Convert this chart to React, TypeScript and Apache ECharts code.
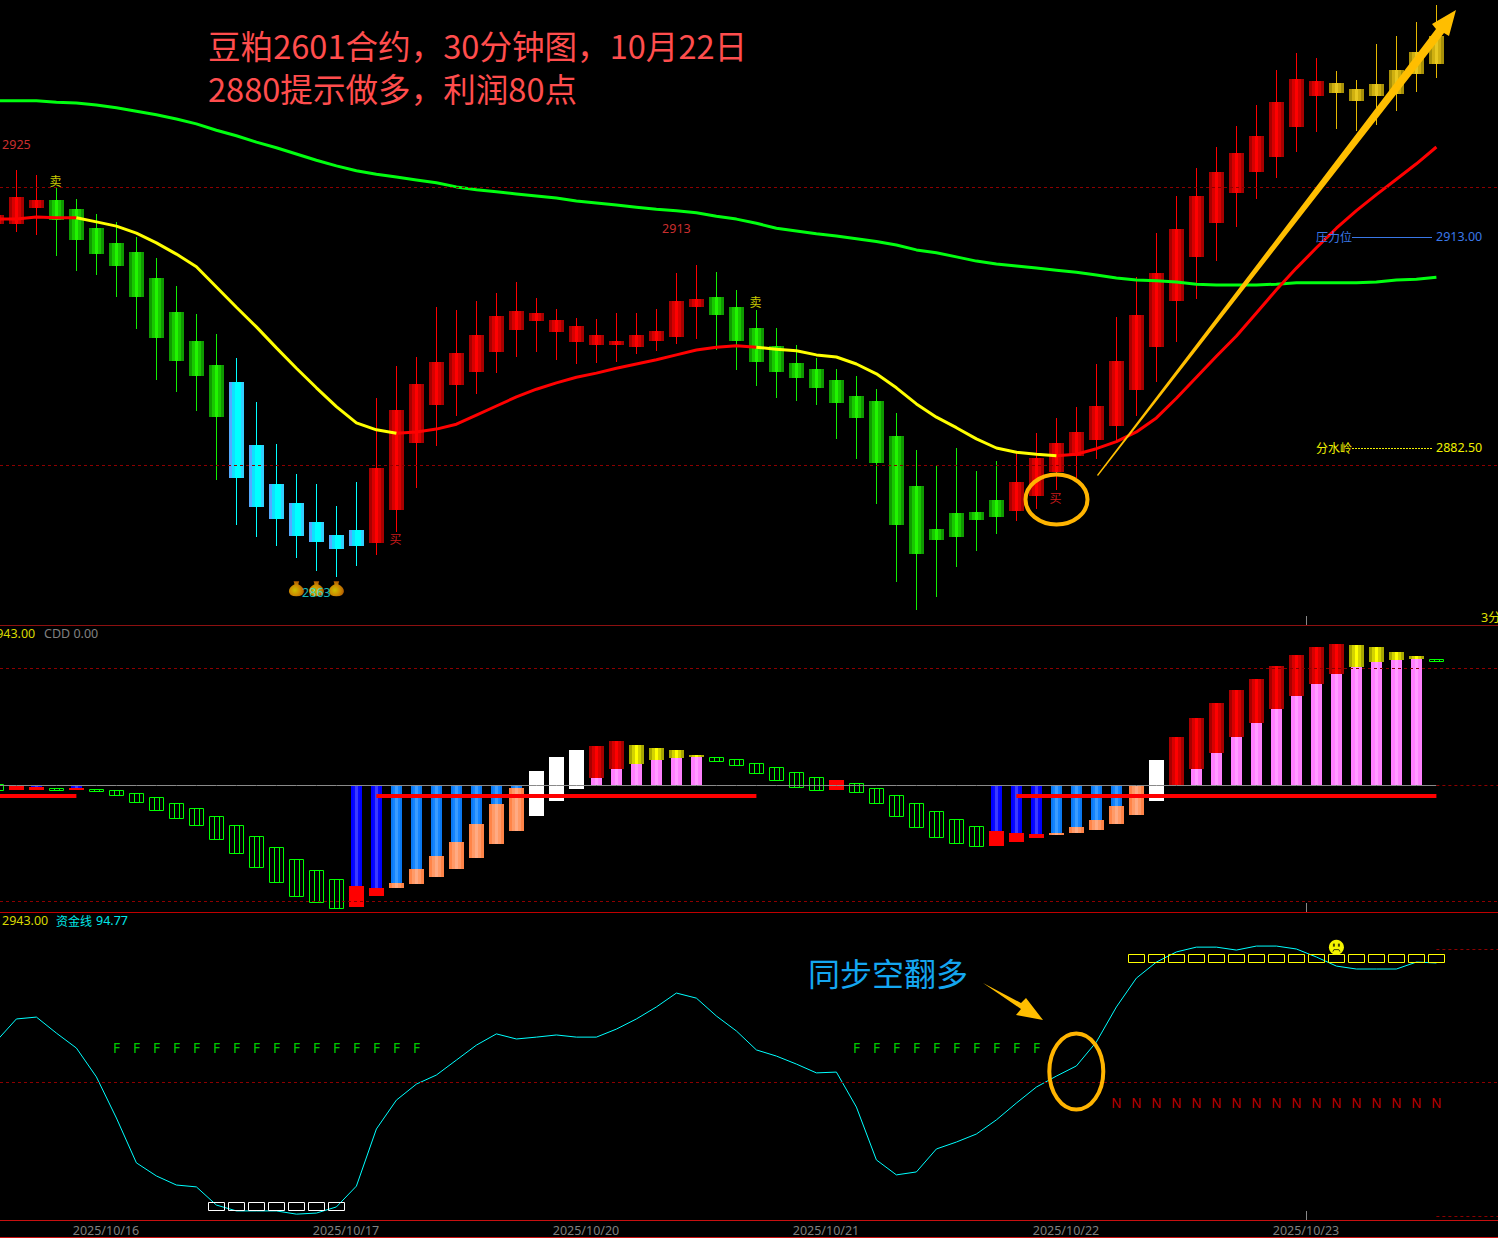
import React, { useEffect, useRef } from "react";
import * as echarts from "echarts";

// ---------- price pane ----------
const candleKinds = "rrrgggggggggcccccccrrrrrrrrrrrrrrrrrgggggggggggggggrrrrrrrrrrrrrrrryyyyyy";
const opens = [2915,2915,2917.3,2918.4,2917.1,2914.4,2912.3,2911,2907.3,2902.4,2898.3,2894.9,2892.4,2883.4,2877.9,2875.1,2872.4,2870.6,2871.3,2869.4,2874.1,2883.7,2889.1,2892,2893.9,2896.7,2899.9,2901.1,2899.6,2898.1,2897.7,2897.7,2897.4,2898.3,2898.9,2903.1,2904.6,2903.1,2900.1,2897.6,2895.1,2894.3,2892.7,2890.4,2889.7,2884.7,2877.6,2871.4,2873.7,2873.9,2875.6,2874,2876.1,2879.6,2881.9,2884.1,2886.1,2891.3,2897.4,2904,2910.3,2915.1,2919.4,2922.4,2924.6,2928.9,2933.3,2933.7,2932.6,2933.3,2933.6,2936.4,2937.9];
const closes = [2916.3,2918.9,2918.4,2915.6,2912.7,2910.7,2909,2904.6,2898.7,2895.4,2893.3,2887.4,2878.7,2874.6,2872.9,2870.4,2869.6,2868.6,2869,2880.1,2888.4,2892.1,2895.3,2896.6,2899.1,2901.9,2902.6,2902.3,2901.3,2900.4,2899.1,2898.3,2899.1,2899.7,2904,2904.3,2902,2898.3,2895.3,2893.9,2893,2891.6,2889.4,2887.3,2880.9,2872,2867.9,2869.9,2870.3,2872.7,2873.1,2878.1,2881.6,2883.7,2885.3,2889,2895.4,2902,2908,2914.3,2919,2922.4,2925.1,2927.6,2932.4,2935.7,2935.4,2935.1,2934.3,2935,2937,2939.6,2941.9];
const lows = [2915,2913.9,2913.4,2910.4,2908.3,2907.7,2904.6,2900,2892.7,2891,2888.3,2878.4,2872,2870.3,2869,2867.3,2865.4,2864.6,2866.1,2867.7,2871,2877.3,2883.3,2887.6,2890.7,2893.7,2896,2896.7,2895.6,2895,2895.1,2895.3,2896.4,2896.9,2897.9,2898.6,2897,2894.1,2891.9,2890.1,2889.7,2889.1,2884.3,2881.4,2875,2863.9,2859.9,2861.7,2866,2868.3,2870.7,2872.6,2874.3,2877,2878.7,2881.4,2883.9,2887.6,2892.4,2898.1,2904.3,2909.7,2914.6,2918.6,2921.6,2925.3,2928.1,2928.6,2928.3,2929.1,2931.1,2933.9,2935.9];
const highs = [2916.3,2922.7,2922,2920.1,2918.6,2916.4,2915.3,2913.1,2910.1,2906.1,2902.1,2899.3,2895.9,2889.6,2883.6,2879.3,2877.9,2874.7,2878.1,2890.1,2894.7,2896,2903.1,2902.7,2904,2905.1,2906.7,2904.4,2902.9,2901.6,2901.4,2902.3,2902.3,2902.9,2908,2909.1,2908.1,2905.6,2902.7,2900.1,2897.7,2895.9,2894.3,2893.3,2891.4,2888,2882.7,2880.6,2883,2879.7,2881.1,2882.3,2885.1,2887.3,2888.9,2895,2901.7,2907.4,2913.7,2919,2923,2926,2929,2932,2937,2939.4,2938.7,2936.9,2935.6,2940.7,2941.9,2943.9,2946.3];
const longAverage = [2932.6,2932.6,2932.6,2932.4,2932.3,2932,2931.6,2931.1,2930.6,2930,2929.3,2928.4,2927.6,2926.7,2925.9,2925,2924.1,2923.3,2922.6,2922.1,2921.7,2921.3,2920.9,2920.3,2919.9,2919.6,2919.3,2919,2918.7,2918.3,2918,2917.7,2917.4,2917.1,2916.9,2916.6,2916.1,2915.7,2915.1,2914.4,2914,2913.6,2913.3,2912.9,2912.5,2912,2911.3,2910.9,2910.3,2909.7,2909.3,2909,2908.7,2908.4,2908.1,2907.7,2907.3,2907,2906.9,2906.7,2906.4,2906.3,2906.3,2906.3,2906.4,2906.6,2906.6,2906.6,2906.6,2906.7,2907,2907.1,2907.4];
const trendLine = [2915.7,2915.7,2916,2915.9,2915.9,2915.3,2914.7,2913.7,2912.3,2910.7,2908.9,2906,2903.1,2900.3,2897.3,2894.4,2891.6,2888.9,2886.6,2885.6,2885.1,2885.3,2885.7,2886.4,2887.7,2889,2890.3,2891.4,2892.3,2893.1,2893.7,2894.4,2895,2895.6,2896.3,2897,2897.4,2897.6,2897.4,2897.1,2896.9,2896.3,2896,2895,2893.6,2891.6,2889.3,2887.4,2885.9,2884.3,2883,2882.4,2882.1,2881.9,2882.1,2882.9,2883.9,2885.3,2887.3,2890.1,2893.1,2896.1,2899,2902.3,2905.6,2908.7,2911.6,2914.4,2916.9,2919.2,2921.4,2923.6,2926];
const bullRuns = [[0,4],[20,38],[53,72]];
const bearRuns = [[4,20],[38,53]];
const priceLevels = [2920.2, 2880.5];
const buyMarks = [[-0.05,2911.2],[19.95,2870.1],[52.95,2876]];
const sellMarks = [[2.95,2921.2],[37.95,2904]];
const extremeMarks = [[1,2926.4,"2925"],[34,2914.4,"2913"]];
const lowMark = [[16,2862.4,"2863"]];
const potMarks = [[15,2862.9],[16,2862.9],[17,2862.9]];

// ---------- CDD pane ----------
const stemKinds = "--b-b" + "-------------" + "bb" + "lllllll" + "---" + "pppppp" + "--------------" + "bbb" + "llll" + "---" + "pppppppppppp" + "-";
const stemEnds = [0,0,-2,0,-3,0,0,0,0,0,0,0,0,0,0,0,0,0,-101,-103,-98,-84,-71,-57,-39,-19,-3,0,0,0,7,16,21,25,27,28,0,0,0,0,0,0,0,0,0,0,0,0,0,0,-46,-48,-49,-48,-42,-35,-21,0,0,0,16,32,48,62,76,89,101,111,118,123,125,126,0];
const blockKinds = "xrrxr" + "xxxxxxxxxxxxx" + "rr" + "ooooooo" + "www" + "RR" + "yyyy" + "xxxxxx" + "r" + "xxxxxxx" + "rrr" + "ooooo" + "w" + "RRRRRRRRR" + "yyyy" + "x";
const blockTops = [1,-1,-2,-3,-3,-4,-5,-8,-12,-18,-23,-31,-40,-51,-62,-74,-85,-94,-101,-103,-98,-84,-71,-57,-39,-19,-3,14,28,35,39,44,40,37,35,30,28,26,22,18,13,8,5,2,-3,-10,-18,-26,-34,-41,-46,-48,-49,-48,-42,-35,-21,-1,25,48,67,82,95,106,119,130,138,141,140,138,133,129,126];
const blockBottoms = [-6,-5,-5,-6,-5,-7,-11,-18,-26,-34,-41,-55,-69,-83,-98,-112,-118,-124,-122,-111,-103,-99,-92,-84,-73,-59,-46,-31,-16,-4,7,16,21,25,27,28,23,19,11,4,-3,-6,-5,-8,-19,-32,-43,-53,-59,-62,-61,-57,-53,-50,-48,-45,-39,-30,-16,0,16,32,48,62,76,89,101,111,118,123,125,126,123];
const cddLevels = [117, -116];
const holdRuns = [[0,4],[19,38],[51,72]];
const holdLevel = -10.5;

// ---------- money-flow pane ----------
const moneyLine = [65.5,73.8,74.5,68.5,62.9,52.1,36.7,19.9,15,11.6,10.9,4.1,1.9,1.9,1.9,0.7,1.1,3.4,11.2,32.6,43.4,49.4,52.8,58.4,64,68.2,66.3,67,67.8,67,67,70,73.8,78.3,83.5,81.6,74.9,69.3,62.2,59.9,56.9,53.6,53.9,40.8,21,15.4,16.5,25.1,27.7,30.7,36,42.3,48.3,52.4,56.2,65.2,78.3,89.1,95.1,98.9,100.7,100.7,99.6,101.1,101.1,100,97,93.6,92.5,92.5,92.5,95.1,94.77];
const fallMarks = [6,7,8,9,10,11,12,13,14,15,16,17,18,19,20,21,43,44,45,46,47,48,49,50,51,52];
const fallLevel = 62.9;
const riseMarks = [56,57,58,59,60,61,62,63,64,65,66,67,68,69,70,71,72];
const riseLevel = 42.3;
const lowBoxes = [11,12,13,14,15,16,17];
const lowBoxLevel = 3.6;
const highBoxes = [57,58,59,60,61,62,63,64,65,66,67,68,69,70,71,72];
const highBoxLevel = 96.4;
const faceMark = [[67,100.7]];
const moneyMidLevel = 50;
const moneyEdgeLevels = [100, 0];

// ---------- time axis ----------
const dateLabels = ["2025/10/16","2025/10/17","2025/10/20","2025/10/21","2025/10/22","2025/10/23"];
const dateSlots = [5.48,17.48,29.48,41.48,53.48,65.48];
const lastSessionSlot = [65.48];

const SANS = '"Noto Sans", "Noto Sans CJK SC", sans-serif';
const CJK = '"Noto Sans CJK SC", sans-serif';

const grad = (stops: [number, string][]) => ({
  type: "linear", x: 0, y: 0, x2: 1, y2: 0,
  colorStops: stops.map(([offset, color]) => ({ offset, color })),
});
const tri = (dark: string, mid: string, bright: string) =>
  grad([[0, dark], [0.2, dark], [0.2, mid], [0.4, mid], [0.4, bright], [0.6, bright], [0.6, mid], [0.8, mid], [0.8, dark], [1, dark]]);

const candleStyle: Record<string, { wick: string; body: any }> = {
  r: { wick: "#ff0000", body: tri("#a80000", "#d80000", "#ff0000") },
  g: { wick: "#10f000", body: tri("#0f9a00", "#18c800", "#20f400") },
  c: { wick: "#00ffff", body: grad([[0, "#55aaff"], [0.2, "#55aaff"], [0.2, "#10e0ff"], [0.4, "#10e0ff"], [0.4, "#00ffff"], [0.8, "#00ffff"], [0.8, "#30d0ff"], [1, "#30d0ff"]]) },
  y: { wick: "#e6b800", body: tri("#a89008", "#d0b010", "#e8c820") },
};
const stemFill: Record<string, any> = {
  b: tri("#0000ff", "#0808ff", "#3a3aff"),
  l: tri("#0a78f0", "#1484ff", "#3a9cff"),
  p: tri("#ff80ff", "#ff80ff", "#ff9cff"),
};
const blockFill: Record<string, any> = {
  r: "#ff0000",
  R: tri("#a80000", "#d80000", "#ff0000"),
  o: tri("#ff8448", "#ff9a68", "#ffaa84"),
  w: "#ffffff",
  y: tri("#a8a800", "#d4d400", "#ffff00"),
};

const renderCandle = (params: any, api: any) => {
  const slot = api.value(0);
  const cx = Math.floor(api.coord([slot, 2900])[0]);
  const yOpen = Math.round(api.coord([slot, api.value(1)])[1]);
  const yClose = Math.round(api.coord([slot, api.value(2)])[1]);
  const yLow = Math.round(api.coord([slot, api.value(3)])[1]);
  const yHigh = Math.round(api.coord([slot, api.value(4)])[1]);
  const st = candleStyle[candleKinds[params.dataIndex]];
  const top = Math.min(yOpen, yClose);
  const height = Math.max(1, Math.abs(yOpen - yClose));
  return {
    type: "group",
    children: [
      { type: "line", shape: { x1: cx + 0.5, y1: yHigh, x2: cx + 0.5, y2: yLow }, style: { stroke: st.wick, lineWidth: 1 } },
      { type: "rect", shape: { x: cx - 7, y: top, width: 15, height }, style: { fill: st.body } },
    ],
  };
};

const renderCdd = (params: any, api: any) => {
  const slot = api.value(0);
  const cx = Math.floor(api.coord([slot, 0])[0]);
  const zero = Math.floor(api.coord([slot, 0])[1]);
  const stemY = Math.floor(api.coord([slot, api.value(1)])[1]);
  const top = Math.floor(api.coord([slot, api.value(2)])[1]);
  const bottom = Math.floor(api.coord([slot, api.value(3)])[1]);
  const stemKind = stemKinds[params.dataIndex];
  const blockKind = blockKinds[params.dataIndex];
  const children: any[] = [];
  if (stemKind !== "-") {
    children.push({
      type: "rect",
      shape: { x: cx - 5, y: Math.min(zero, stemY), width: 11, height: Math.abs(stemY - zero) },
      style: { fill: stemFill[stemKind] },
    });
  }
  if (blockKind === "x") {
    const x0 = cx - 7 + 0.5;
    children.push({ type: "rect", shape: { x: x0, y: top + 0.5, width: 14, height: bottom - top - 1 }, style: { fill: "rgba(0,0,0,0)", stroke: "#00ff00", lineWidth: 1 } });
    [5, 10].forEach((dx) =>
      children.push({ type: "line", shape: { x1: x0 + dx, y1: top, x2: x0 + dx, y2: bottom }, style: { stroke: "#00ff00", lineWidth: 1 } })
    );
  } else {
    children.push({ type: "rect", shape: { x: cx - 7, y: top, width: 15, height: bottom - top }, style: { fill: blockFill[blockKind] } });
  }
  return { type: "group", children };
};

const renderBox = (color: string) => (_params: any, api: any) => {
  const [cx, cy] = api.coord([api.value(0), api.value(1)]);
  return {
    type: "rect",
    shape: { x: Math.floor(cx) - 8 + 0.5, y: Math.floor(cy) - 4 + 0.5, width: 16, height: 8 },
    style: { fill: "rgba(0,0,0,0)", stroke: color, lineWidth: 1 },
  };
};

const renderFace = (_params: any, api: any) => {
  const [cx, cy] = api.coord([api.value(0), api.value(1)]);
  return {
    type: "group",
    children: [
      { type: "circle", shape: { cx, cy, r: 7.5 }, style: { fill: "#f4f400" } },
      { type: "rect", shape: { x: cx - 3.5, y: cy - 3.5, width: 2, height: 3 }, style: { fill: "#404000" } },
      { type: "rect", shape: { x: cx + 1.5, y: cy - 3.5, width: 2, height: 3 }, style: { fill: "#404000" } },
      { type: "polyline", shape: { points: [[cx - 3.5, cy + 4.5], [cx - 2.5, cy + 2.5], [cx + 2.5, cy + 2.5], [cx + 3.5, cy + 4.5]] }, style: { fill: "none", stroke: "#404000", lineWidth: 1 } },
    ],
  };
};

const inRuns = (i: number, runs: number[][]) => runs.some(([a, b]) => i >= a && i <= b);
const slotted = (vals: number[]) => vals.map((v, i) => [i, v]);
const masked = (vals: number[], runs: number[][]) => vals.map((v, i) => [i, inRuns(i, runs) ? v : null]);

const DASH = { color: "#8c0000", width: 1, type: [3, 3] };
const dashLevels = (levels: number[]) => ({
  silent: true, symbol: "none", animation: false, label: { show: false },
  lineStyle: DASH, data: levels.map((yAxis) => ({ yAxis })),
});
const lineSeries = (name: string, data: any[], color: string, width: number, pane: number, extra: any = {}) => ({
  type: "line", name, data, xAxisIndex: pane, yAxisIndex: pane, showSymbol: false, symbol: "none",
  connectNulls: false, lineStyle: { color, width }, z: 3, silent: true, ...extra,
});
const textSeries = (name: string, rows: any[][], color: string, pane: number, fontSize = 12, fontFamily = CJK, text?: string) => ({
  type: "scatter", name, xAxisIndex: pane, yAxisIndex: pane, symbolSize: 1, z: 6, silent: true,
  itemStyle: { color: "rgba(0,0,0,0)" },
  label: {
    show: true, position: "inside", color, fontSize, fontFamily,
    formatter: (p: any) => (text !== undefined ? text : String(p.data[2])),
  },
  data: rows,
});
const boxSeries = (name: string, slots: number[], level: number, color: string) => ({
  type: "custom", name, xAxisIndex: 2, yAxisIndex: 2, z: 4, silent: true,
  renderItem: renderBox(color), encode: { x: 0, y: 1 },
  data: slots.map((s) => [s, level]),
});

const xAxisFor = (grid: number, lineColor: string, labelled: boolean) => ({
  type: "value", gridIndex: grid, min: 0.18, max: 75.08, position: "bottom",
  splitLine: { show: false },
  axisLine: { show: true, onZero: false, lineStyle: { color: lineColor, width: 1 } },
  axisTick: { show: true, inside: true, length: 9, lineStyle: { color: "#888888" }, customValues: lastSessionSlot },
  axisLabel: labelled
    ? {
        show: true, color: "#808080", fontSize: 12.5, fontFamily: SANS, margin: 4, hideOverlap: false,
        showMinLabel: true, showMaxLabel: true, customValues: dateSlots,
        formatter: (v: number) => {
          const at = dateSlots.findIndex((s) => Math.abs(s - v) < 0.01);
          return at >= 0 ? dateLabels[at] : "";
        },
      }
    : { show: false },
});
const yAxisFor = (grid: number, min: number, max: number) => ({
  type: "value", gridIndex: grid, min, max, show: false, splitLine: { show: false },
});

const label = (text: string, x: number, y: number, fill: string, font: string, align = "left", z = 50) => ({
  type: "text", z,
  style: { text, x, y, fill, font, textAlign: align, align, textVerticalAlign: "middle", verticalAlign: "middle" },
});
const rule = (x1: number, x2: number, y: number, stroke: string, dash?: number[]) => ({
  type: "line", z: 50, shape: { x1, y1: y + 0.5, x2, y2: y + 0.5 },
  style: { stroke, lineWidth: 1, lineDash: dash },
});

const GOLD = "#ffb400";
const ARROW = "#ffbe00";

const buildOption = () => ({
  animation: false,
  backgroundColor: "#000000",
  tooltip: { show: false },
  grid: [
    { left: 0, top: 0, width: 1498, height: 625 },
    { left: 0, top: 626, width: 1498, height: 286 },
    { left: 0, top: 913, width: 1498, height: 307 },
  ],
  xAxis: [xAxisFor(0, "#8c1010", false), xAxisFor(1, "#c00000", false), xAxisFor(2, "#c81010", true)],
  yAxis: [yAxisFor(0, 2857.7143, 2947), yAxisFor(1, -126.5, 159.5), yAxisFor(2, -1.498, 113.483)],
  series: [
    {
      type: "custom", name: "K", xAxisIndex: 0, yAxisIndex: 0, z: 2, silent: true,
      renderItem: renderCandle,
      encode: { x: 0, y: [1, 2, 3, 4] },
      data: opens.map((o, i) => [i, o, closes[i], lows[i], highs[i]]),
    },
    lineSeries("长均线", slotted(longAverage), "#00ff10", 3, 0, { markLine: dashLevels(priceLevels) }),
    lineSeries("多头", masked(trendLine, bullRuns), "#ff0000", 3, 0),
    lineSeries("空头", masked(trendLine, bearRuns), "#ffff00", 3, 0, { z: 4 }),
    {
      type: "scatter", name: "底部", xAxisIndex: 0, yAxisIndex: 0, z: 5, silent: true,
      symbol: "path://M5 0H11L10 3Q16 6 16 10Q16 15 8 15Q0 15 0 10Q0 6 6 3Z",
      symbolSize: [15, 15],
      itemStyle: {
        color: {
          type: "radial", x: 0.4, y: 0.6, r: 0.65,
          colorStops: [{ offset: 0, color: "#fff000" }, { offset: 0.5, color: "#ffb000" }, { offset: 1, color: "#d86800" }],
        },
      },
      data: potMarks,
    },
    textSeries("买", buyMarks, "#ff2020", 0, 12, CJK, "买"),
    textSeries("卖", sellMarks, "#ffff00", 0, 12, CJK, "卖"),
    textSeries("高点", extremeMarks, "#ff3c3c", 0, 12.5, SANS),
    textSeries("低点", lowMark, "#20e8e8", 0, 12.5, SANS),

    {
      type: "custom", name: "CDD", xAxisIndex: 1, yAxisIndex: 1, z: 2, silent: true,
      renderItem: renderCdd,
      encode: { x: 0, y: [1, 2, 3] },
      data: stemEnds.map((s, i) => [i, s, blockTops[i], blockBottoms[i]]),
    },
    lineSeries("零轴", stemEnds.map((_, i) => [i, 0]), "#8a8a8a", 1, 1, {
      markLine: {
        silent: true, symbol: "none", label: { show: false }, lineStyle: DASH,
        data: [
          ...cddLevels.map((yAxis) => ({ yAxis })),
          [{ coord: [72, 0] }, { coord: [75.08, 0] }],
        ],
      },
    }),
    lineSeries("持仓线", masked(stemEnds.map(() => holdLevel), holdRuns), "#ff0000", 4, 1, { z: 4 }),

    lineSeries("资金线", slotted(moneyLine), "#00ffff", 1, 2, {
      markLine: {
        silent: true, symbol: "none", label: { show: false }, lineStyle: DASH,
        data: [
          { yAxis: moneyMidLevel },
          ...moneyEdgeLevels.map((v) => [{ coord: [72, v] }, { coord: [75.08, v] }]),
        ],
      },
    }),
    boxSeries("低位", lowBoxes, lowBoxLevel, "#ffffff"),
    boxSeries("高位", highBoxes, highBoxLevel, "#ffff00"),
    textSeries("F", fallMarks.map((s) => [s, fallLevel]), "#00ff00", 2, 13.5, SANS, "F"),
    textSeries("N", riseMarks.map((s) => [s, riseLevel]), "#f00000", 2, 13.5, SANS, "N"),
    {
      type: "custom", name: "表情", xAxisIndex: 2, yAxisIndex: 2, z: 7, silent: true,
      renderItem: renderFace, encode: { x: 0, y: 1 }, data: faceMark,
    },
  ],
  graphic: [
    label("豆粕2601合约，30分钟图，10月22日", 208, 44, "#ff4d4d", `32.6px ${CJK}`, "left", 60),
    label("2880提示做多，利润80点", 208, 87, "#ff4d4d", `32.6px ${CJK}`, "left", 60),
    label("同步空翻多", 808, 972, "#14a6f0", `32px ${CJK}`, "left", 60),

    label("压力位", 1316, 236, "#3a78e8", `12px ${CJK}`),
    rule(1352, 1432, 237, "#3a78e8"),
    label("2913.00", 1436, 236, "#3a78e8", `12.5px ${SANS}`),
    label("分水岭", 1316, 447, "#f0f000", `12px ${CJK}`),
    rule(1352, 1432, 448, "#f0f000", [2, 1]),
    label("2882.50", 1436, 447, "#f0f000", `12.5px ${SANS}`),
    label("3分", 1481, 617, "#e0e000", `12.5px ${SANS}`),

    label("2943.00", -11, 633, "#d8d800", `12.5px ${SANS}`),
    label("CDD 0.00", 44, 633, "#808080", `12.5px ${SANS}`),
    label("2943.00", 2, 920, "#d8d800", `12.5px ${SANS}`),
    label("资金线", 56, 920, "#00e8e8", `12px ${CJK}`),
    label("94.77", 96, 920, "#00e8e8", `12.5px ${SANS}`),
    rule(0, 1498, 1237, "#c81010"),

    { type: "ellipse", z: 70, shape: { cx: 1056.5, cy: 499.5, rx: 31, ry: 25 }, style: { fill: "none", stroke: GOLD, lineWidth: 4 } },
    { type: "ellipse", z: 70, shape: { cx: 1076.3, cy: 1071.5, rx: 27, ry: 38 }, style: { fill: "none", stroke: GOLD, lineWidth: 4 } },
    {
      type: "polygon", z: 70,
      shape: { points: [[1097, 475], [1436, 29], [1432, 24], [1456, 10], [1449, 36], [1444, 33], [1098, 476]] },
      style: { fill: ARROW },
    },
    {
      type: "polygon", z: 70,
      shape: { points: [[983, 983], [1021, 1003], [1026, 998], [1043, 1020], [1016, 1015], [1021, 1009]] },
      style: { fill: ARROW },
    },
  ],
});

export default function App() {
  const ref = useRef<HTMLDivElement>(null);
  useEffect(() => {
    document.body.style.margin = "0";
    document.body.style.background = "#000";
    const chart = echarts.init(ref.current!, undefined, { renderer: "svg" });
    chart.setOption(buildOption() as any);
    return () => chart.dispose();
  }, []);
  return <div ref={ref} style={{ position: "absolute", left: 0, top: 0, width: 1498, height: 1238 }} />;
}
